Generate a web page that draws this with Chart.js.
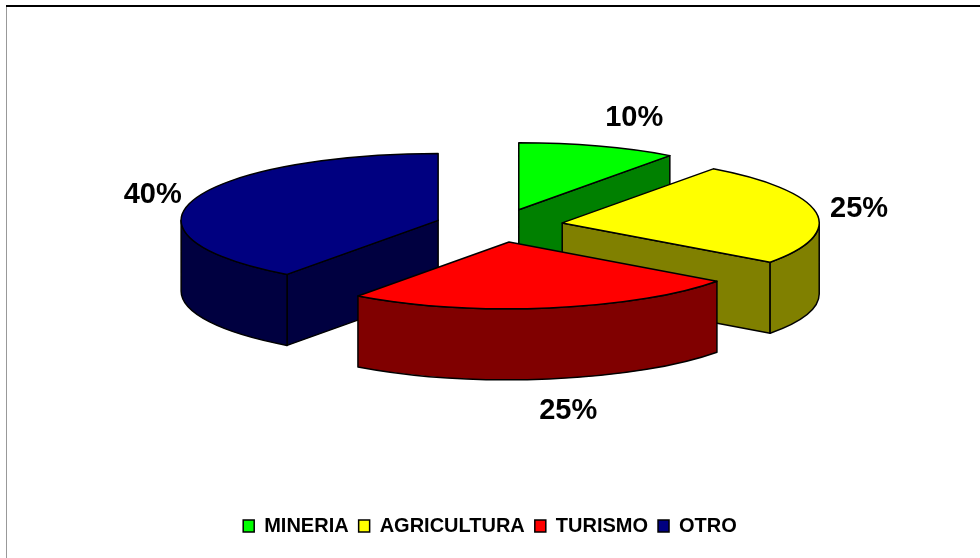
<!DOCTYPE html>
<html>
<head>
<meta charset="utf-8">
<style>html,body{margin:0;padding:0;background:#fff}canvas{display:block}</style>
<script src="https://cdn.jsdelivr.net/npm/chart.js@4/dist/chart.umd.min.js"></script>
</head>
<body>
<canvas id="c" width="980" height="558"></canvas>
<script>
const categories = ['MINERIA', 'AGRICULTURA', 'TURISMO', 'OTRO'];
const shares = [10, 25, 25, 40];
const topColors = ['#00ff00', '#ffff00', '#ff0000', '#000080'];
const sideColors = ['#008000', '#808000', '#800000', '#000040'];
const paintOrder = [3, 0, 1, 2];
const labelNudgeX = [36, 43, 19, -41];
const labelNudgeY = [-28, -3, 32, -5];

const view = { cx: 499, cy: 225.5, radius: 257, tilt: 0.26, depth: 71, explode: 64 };
const FONT = '"Liberation Sans", Arial, sans-serif';

const pie3d = {
  id: 'pie3d',
  beforeDraw(chart) {
    const g = chart.ctx;
    g.save();
    g.fillStyle = '#fff';
    g.fillRect(0, 0, chart.width, chart.height);
    g.fillStyle = '#999';
    g.fillRect(6, 6, 1, chart.height - 6);
    g.fillStyle = '#000';
    g.fillRect(6, 5, chart.width - 6, 2);
    g.restore();
  },
  beforeDatasetsDraw(chart) {
    const g = chart.ctx;
    const arcs = chart.getDatasetMeta(0).data;
    const { cx, cy, tilt, depth, explode } = view;
    g.save();
    g.lineWidth = 1.5;
    g.strokeStyle = '#000';
    g.lineJoin = 'round';
    const paint = (fill) => { g.fillStyle = fill; g.fill(); g.stroke(); };
    paintOrder.forEach((i) => {
      const a = arcs[i];
      const s = a.startAngle, e = a.endAngle, r = a.outerRadius, ry = r * tilt;
      const mid = (s + e) / 2;
      const x0 = cx + Math.cos(mid) * explode;
      const y0 = cy + Math.sin(mid) * explode * tilt;
      const px = (t) => x0 + Math.cos(t) * r;
      const py = (t) => y0 + Math.sin(t) * ry;
      const wall = (t) => {
        g.beginPath();
        g.moveTo(x0, y0);
        g.lineTo(px(t), py(t));
        g.lineTo(px(t), py(t) + depth);
        g.lineTo(x0, y0 + depth);
        g.closePath();
        paint(sideColors[i]);
      };
      if (Math.cos(s) < -1e-6) wall(s);
      if (Math.cos(e) > 1e-6) wall(e);
      const a0 = Math.max(s, 0), a1 = Math.min(e, Math.PI);
      if (a1 > a0) {
        g.beginPath();
        g.ellipse(x0, y0, r, ry, 0, a0, a1);
        g.lineTo(px(a1), py(a1) + depth);
        g.ellipse(x0, y0 + depth, r, ry, 0, a1, a0, true);
        g.closePath();
        paint(sideColors[i]);
      }
      g.beginPath();
      g.moveTo(x0, y0);
      g.ellipse(x0, y0, r, ry, 0, s, e);
      g.closePath();
      paint(topColors[i]);
    });
    g.restore();
    return false;
  },
  afterDraw(chart) {
    const g = chart.ctx;
    const arcs = chart.getDatasetMeta(0).data;
    const { cx, cy, tilt, depth, explode } = view;
    g.save();
    g.font = 'bold 29px ' + FONT;
    g.fillStyle = '#000';
    g.textAlign = 'center';
    g.textBaseline = 'middle';
    arcs.forEach((a, i) => {
      const mid = (a.startAngle + a.endAngle) / 2;
      const reach = a.outerRadius + explode;
      const lower = Math.sin(mid) > 0.7 ? depth : 0;
      const x = cx + Math.cos(mid) * reach + labelNudgeX[i];
      const y = cy + Math.sin(mid) * reach * tilt + lower + labelNudgeY[i];
      g.fillText(shares[i] + '%', x, y);
    });
    g.restore();
  }
};

new Chart(document.getElementById('c'), {
  type: 'pie',
  plugins: [pie3d],
  data: {
    labels: categories,
    datasets: [{
      data: shares,
      backgroundColor: topColors,
      borderColor: '#000',
      borderWidth: 1.5,
      radius: view.radius
    }]
  },
  options: {
    responsive: false,
    animation: false,
    layout: { padding: { bottom: 12 } },
    plugins: {
      tooltip: { enabled: false },
      legend: {
        position: 'bottom',
        labels: {
          boxWidth: 11,
          boxHeight: 12,
          padding: 10,
          color: '#000',
          font: { family: FONT, size: 20, weight: 'bold' }
        }
      }
    }
  }
});
</script>
</body>
</html>
